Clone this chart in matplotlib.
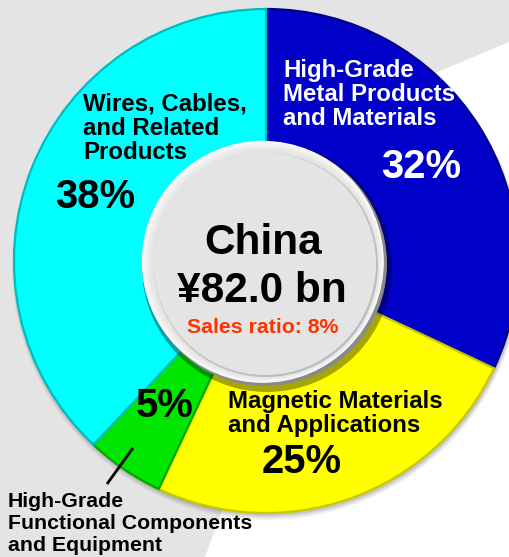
import numpy as np
import matplotlib
matplotlib.use("Agg")
import matplotlib.pyplot as plt
from matplotlib.patches import Circle, Polygon

plt.rcParams["font.family"] = ["Liberation Sans", "DejaVu Sans"]
plt.rcParams["font.weight"] = "bold"

W, H = 509, 557

# segment shares (clockwise from 12 o'clock)
segments = ["High-Grade\nMetal Products\nand Materials",
            "Magnetic Materials\nand Applications",
            "High-Grade\nFunctional Components\nand Equipment",
            "Wires, Cables,\nand Related\nProducts"]
shares = [32, 25, 5, 38]
colors = ["#0000c8", "#ffff00", "#00e600", "#00ffff"]
edges = ["#00008a", "#c8c800", "#00a800", "#00bcbc"]

region = "China"
sales_bn = 82.0
sales_ratio = 8

def Y(y):
    # layout written top-down, axes run bottom-up
    return H - y

fig = plt.figure(figsize=(W / 100, H / 100), dpi=100)
ax = fig.add_axes([0, 0, 1, 1])

# grey backdrop on the left/top, white elsewhere
bg = Polygon([(0, Y(0)), (W, Y(0)), (W, Y(42)), (430, Y(75)), (300, Y(300)),
              (205, Y(557)), (0, Y(557))], closed=True, fc="#e4e4e4", ec="none", zorder=0)
ax.add_patch(bg)

cx, cy, R = 266, Y(261), 252

# soft shadow under the ring
for k, a in enumerate([0.10, 0.08, 0.06]):
    ax.add_patch(Circle((cx + 1, cy - 2 - k), R + 1 + k, fc=(0, 0, 0, a), ec="none", zorder=1))

wedges, _ = ax.pie(shares, colors=colors, startangle=90, counterclock=False,
                   center=(cx, cy), radius=R,
                   wedgeprops=dict(width=150, linewidth=1.6))
for w, ec in zip(wedges, edges):
    w.set_edgecolor(ec)
    w.set_zorder(2)

# central hub with bevelled rim
hx, hy, hr = 265, Y(264), 122
ax.add_patch(Circle((hx + 2, hy - 3), hr + 3, fc=(0, 0, 0, 0.35), ec="none", zorder=3))
ax.add_patch(Circle((hx, hy), hr, fc="#8a8a8a", ec="none", zorder=4))
steps = 12
for i in range(steps):
    t = i / (steps - 1)
    r = hr - 1 - 8 * t
    shade = 0.98 - 0.09 * t
    off = 2.2 * (1 - t)
    ax.add_patch(Circle((hx - off, hy + off), r, fc=(shade, shade, shade), ec="none", zorder=5))
ax.add_patch(Circle((hx + 1, hy - 1), hr - 10, fc="#bdbdbd", ec="none", zorder=6))
ax.add_patch(Circle((hx, hy), hr - 11, fc="#e4e4e4", ec="none", zorder=7))

def lines(text, x, baselines, size, color, ha="left"):
    for s, b in zip(text.split("\n"), baselines):
        ax.text(x, Y(b), s, fontsize=size, color=color, ha=ha, va="baseline",
                fontweight="bold", zorder=10)

# segment names
lines(segments[0], 283, [77, 101, 125], 17.3, "white")
lines(segments[1], 228, [408, 432], 17.3, "black")
lines(segments[2], 8, [507, 529, 551], 15.3, "black")
lines(segments[3], 83, [110, 135, 159], 17.3, "black")

# percentages
pct_pos = [(421, 178, "white"), (302, 473, "black"), (165, 417, "black"), (95, 208, "black")]
for v, (x, b, c) in zip(shares, pct_pos):
    ax.text(x, Y(b), f"{v}%", fontsize=28.8, color=c, ha="center", va="baseline",
            fontweight="bold", zorder=10)

# leader for the small segment
ax.plot([133, 107], [Y(448), Y(484)], color="black", lw=2.0, solid_capstyle="butt", zorder=10)

# hub text
ax.text(263, Y(254), region, fontsize=30.5, ha="center", va="baseline", fontweight="bold", zorder=10)
ax.text(262, Y(302), f"\u00a5{sales_bn:.1f} bn", fontsize=30.5, ha="center", va="baseline",
        fontweight="bold", zorder=10)
ax.text(263, Y(333), f"Sales ratio: {sales_ratio}%", fontsize=15.3, color="#ff3300",
        ha="center", va="baseline", fontweight="bold", zorder=10)

ax.set_xlim(0, W)
ax.set_ylim(0, H)
ax.set_aspect("auto")
ax.axis("off")
fig.savefig("out.png", dpi=100, facecolor="white")
